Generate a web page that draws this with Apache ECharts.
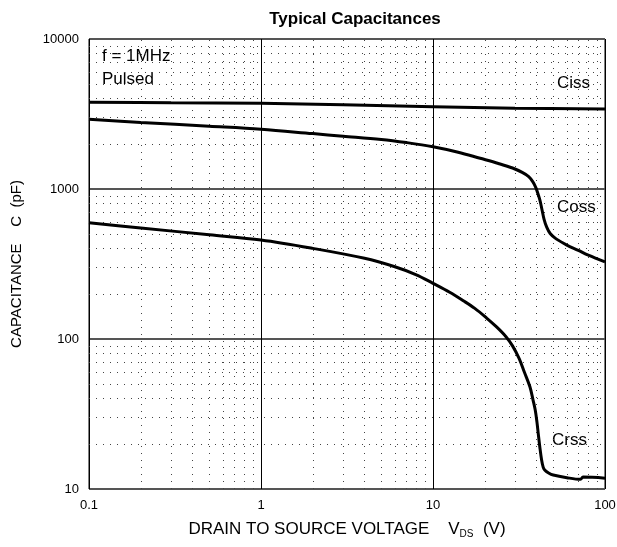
<!DOCTYPE html>
<html>
<head>
<meta charset="utf-8">
<script src="https://cdn.jsdelivr.net/npm/echarts@6/dist/echarts.min.js"></script>
<style>
  html, body { margin: 0; padding: 0; background: #fff; }
  #chart { width: 617px; height: 547px; }
</style>
</head>
<body>
<div id="chart"></div>
<script>
// values (VDS in V, C in pF)
const cissV = [0.1, 0.3, 1, 3, 10, 30, 100];
const cissC = [3790, 3760, 3725, 3640, 3540, 3460, 3415];

const cossV = [0.1, 0.2, 0.5, 1, 2, 3, 5, 7, 10, 14, 18.8, 24, 29, 33, 36, 38, 39.5, 40.5, 41.8, 43, 44.2, 45.7, 48, 52, 60, 70, 80, 100];
const cossC = [2920, 2780, 2620, 2500, 2340, 2250, 2140, 2040, 1914, 1760, 1602, 1480, 1380, 1290, 1210, 1120, 1030, 950, 845, 730, 630, 561, 505, 465, 423, 390, 362, 327];

const crssV = [0.1, 0.2, 0.5, 1, 2, 4, 6, 8, 10, 12.5, 15, 17.5, 20.5, 23.5, 26.5, 29, 31.7, 34, 36.6, 38.2, 39.3, 40.2, 40.9, 41.8, 42.8, 43.7, 44.6, 47, 50, 60, 72, 74.5, 100];
const crssC = [596, 550, 495, 457, 402, 345, 303, 268, 235, 205, 180, 160, 138, 120, 104, 90, 74, 60, 48, 39, 33.6, 28, 23.5, 19, 15.6, 14.0, 13.4, 12.8, 12.4, 11.9, 11.6, 12.0, 11.8];

const xTicks = [0.1, 1, 10, 100];
const yTicks = [10, 100, 1000, 10000];
const minorX = [0.2, 0.3, 0.4, 0.5, 0.6, 0.7, 0.8, 0.9, 2, 3, 4, 5, 6, 7, 8, 9, 20, 30, 40, 50, 60, 70, 80, 90];
const minorY = [20, 30, 40, 50, 60, 70, 80, 90, 200, 300, 400, 500, 600, 700, 800, 900, 2000, 3000, 4000, 5000, 6000, 7000, 8000, 9000];

const font = '"Liberation Sans", Arial, sans-serif';
const pairs = (xs, ys) => xs.map((x, i) => [x, ys[i]]);

const chart = echarts.init(document.getElementById('chart'));

const curve = (name, xs, ys) => ({
    name: name,
    type: 'line',
    data: pairs(xs, ys),
    showSymbol: false,
    smooth: 0.35,
    lineStyle: { color: '#000', width: 3 },
    z: 5
});

const note = (text, x, y) => ({
    type: 'text', left: x, top: y,
    style: { text: text, font: '17px ' + font, fill: '#000', verticalAlign: 'middle' }
});

chart.setOption({
    animation: false,
    backgroundColor: '#fff',
    title: {
        text: 'Typical Capacitances',
        left: 350,
        top: 6,
        textAlign: 'center',
        textStyle: { fontFamily: font, fontSize: 17, fontWeight: 'bold', color: '#000' }
    },
    grid: {
        left: 89, right: 12, top: 39, bottom: 58,
        outerBoundsMode: 'none',
        containLabel: false,
        show: true, borderColor: '#000', borderWidth: 1
    },
    xAxis: {
        type: 'log',
        logBase: 10,
        min: 0.1,
        max: 100,
        name: 'DRAIN TO SOURCE VOLTAGE    {v|V}{s|DS}  (V)',
        nameLocation: 'middle',
        nameGap: 30,
        nameTextStyle: {
            fontFamily: font, fontSize: 17, color: '#000',
            rich: {
                v: { fontFamily: font, fontSize: 17, color: '#000' },
                s: { fontFamily: font, fontSize: 10, color: '#000', padding: [10, 0, 0, 0] }
            }
        },
        axisLine: { show: false },
        axisTick: { show: false },
        axisLabel: {
            fontFamily: font, fontSize: 13, color: '#000', margin: 10,
            formatter: v => String(xTicks.find(t => Math.abs(t - v) / t < 1e-6) ?? v)
        },
        splitLine: { show: true, lineStyle: { color: '#000', width: 1 } }
    },
    yAxis: {
        type: 'log',
        logBase: 10,
        min: 10,
        max: 10000,
        name: 'CAPACITANCE    C  (pF)',
        nameLocation: 'middle',
        nameGap: 65,
        nameTextStyle: { fontFamily: font, fontSize: 15, color: '#000' },
        axisLine: { show: false },
        axisTick: { show: false },
        axisLabel: {
            fontFamily: font, fontSize: 13, color: '#000', margin: 10,
            formatter: v => String(yTicks.find(t => Math.abs(t - v) / t < 1e-6) ?? v)
        },
        splitLine: { show: true, lineStyle: { color: '#555', width: 2 } }
    },
    graphic: [
        note('f = 1MHz', 102, 48),
        note('Pulsed', 102, 71),
        note('Ciss', 557, 75),
        note('Coss', 557, 199),
        note('Crss', 552, 432)
    ],
    series: [
        {
            name: 'minor grid',
            type: 'line',
            data: [],
            silent: true,
            markLine: {
                silent: true,
                symbol: 'none',
                label: { show: false },
                lineStyle: { color: '#444', width: 1, type: [1, 6] },
                data: minorX.map(v => ({ xAxis: v })).concat(minorY.map(v => ({ yAxis: v })))
            },
            z: 1
        },
        curve('Ciss', cissV, cissC),
        curve('Coss', cossV, cossC),
        curve('Crss', crssV, crssC)
    ]
});
</script>
</body>
</html>
